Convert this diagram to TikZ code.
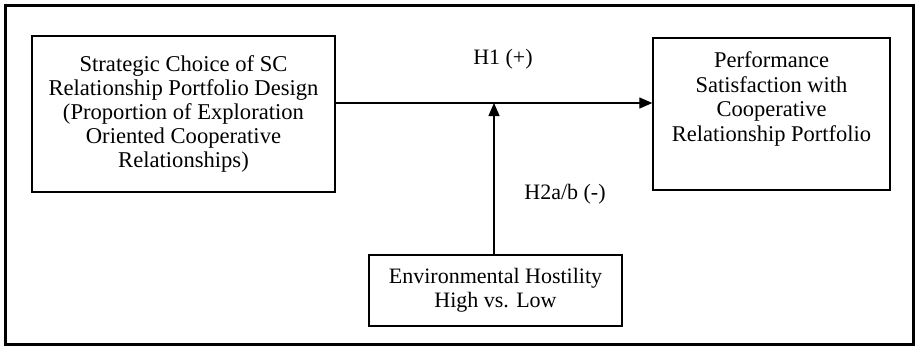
\documentclass[tikz,border=0pt]{standalone}
\usepackage{fontspec}
\setmainfont{Liberation Serif}
\usetikzlibrary{arrows.meta}
\begin{document}
\begin{tikzpicture}[x=1pt,y=-1pt,
  txt/.style={font=\fontsize{22}{24}\selectfont},
  boxnode/.style={draw,line width=1.4pt,align=center,inner sep=0pt,txt},
  lbl/.style={txt,inner sep=0pt},
  conn/.style={line width=1.3pt,-{Triangle[length=13pt,width=11pt]}}]
\useasboundingbox (0,0) rectangle (917,346);
\draw[line width=3pt] (5,5) rectangle (913,344);
\node[boxnode,minimum width=303pt,minimum height=156pt,font=\fontsize{22.6}{23.8}\selectfont] (src) at (183.5,114)
  {Strategic Choice of SC\\Relationship Portfolio Design\\(Proportion of Exploration\\Oriented Cooperative\\Relationships)};
\node[draw,line width=1.4pt,minimum width=237pt,minimum height=152pt,inner sep=0pt] (dst) at (771.5,114) {};
\node[txt,align=center,inner sep=0pt,font=\fontsize{22.5}{24.5}\selectfont] (dsttext) at (771.5,99)
  {Performance\\Satisfaction with\\Cooperative\\Relationship Portfolio};
\node[boxnode,minimum width=253pt,minimum height=71pt] (mod) at (495.5,290.5)
  {Environmental Hostility\\High vs. Low};
\coordinate (mid) at (494,103);
\draw[conn] (src.east |- mid) -- (dst.west |- mid);
\draw[conn] (mod.north -| mid) -- (mid);
\node[lbl] (h1) at (503,59) {H1 (+)};
\node[lbl] (h2) at (565,194) {H2a/b (-)};
\end{tikzpicture}
\end{document}
